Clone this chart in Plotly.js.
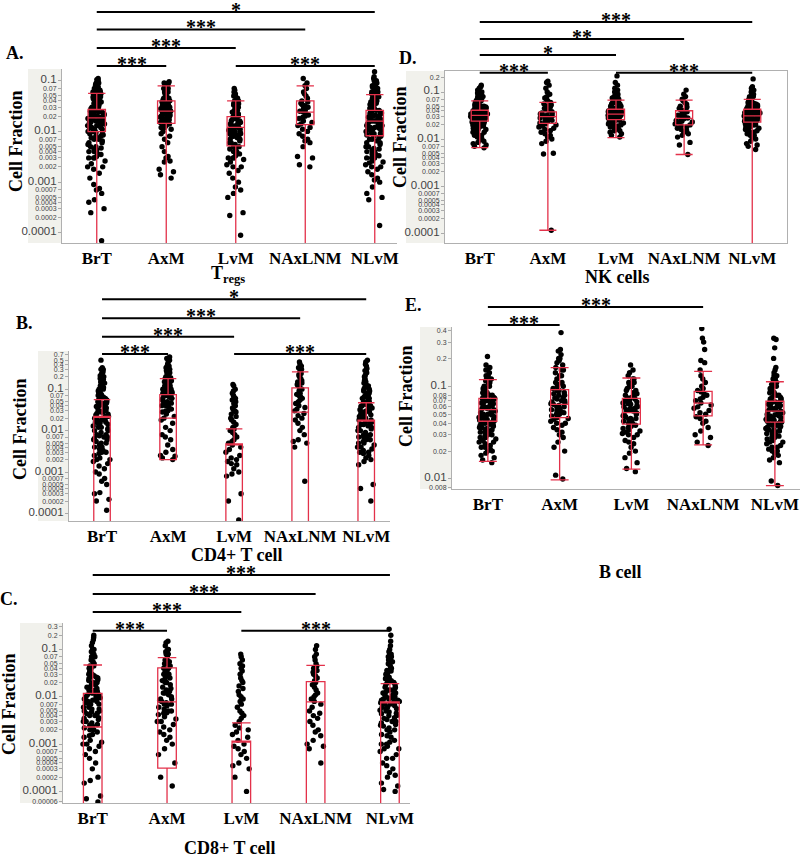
<!DOCTYPE html>
<html><head><meta charset="utf-8">
<script src="https://cdn.plot.ly/plotly-3.0.1.min.js"></script>
<style>html,body{margin:0;padding:0;background:#fff;}#chart{width:800px;height:859px;}</style>
</head><body><div id="chart"></div>
<script>
// ---------- DATA ----------
const categories = ['BrT','AxM','LvM','NAxLNM','NLvM'];

// Panel A: Tregs
const A_BrT = [0.00007,0.00025,0.0003,0.0004,0.00045,0.0006,0.0007,0.00075,0.0009,0.0012,0.0015,0.0018,0.002,0.002,0.0023,0.0026,0.003,0.003,0.0032,0.0036,0.004,0.0043,0.0047,0.005,0.0055,0.006,0.0065,0.007,0.0075,0.008,0.0085,0.009,0.0095,0.010,0.011,0.011,0.012,0.012,0.013,0.013,0.014,0.015,0.015,0.016,0.017,0.017,0.018,0.018,0.019,0.02,0.02,0.021,0.022,0.023,0.024,0.025,0.026,0.027,0.028,0.029,0.03,0.032,0.034,0.036,0.038,0.04,0.042,0.045,0.048,0.05,0.052,0.055,0.058,0.06,0.062,0.065,0.07,0.075,0.08,0.085,0.09,0.1,0.105,0.11,
  0.003,0.0035,0.004,0.0045,0.005,0.006,0.007,0.008,0.009,0.01,0.011,0.012,0.013,0.014,0.015,0.016,0.018,0.02,0.022,0.024,0.026,0.028,0.03,0.033,0.036,0.04,0.044,0.048,0.052,0.056,0.06,0.065,0.07,0.075,0.08,0.09,0.019,0.021,0.017,0.025];
const A_AxM = [0.0012,0.0014,0.0016,0.0018,0.0025,0.0026,0.003,0.0032,0.004,0.005,0.006,0.007,0.008,0.009,0.01,0.011,0.012,0.013,0.013,0.014,0.015,0.015,0.016,0.017,0.018,0.019,0.02,0.021,0.022,0.023,0.024,0.025,0.026,0.027,0.028,0.03,0.031,0.033,0.035,0.037,0.04,0.042,0.045,0.05,0.055,0.06,0.065,0.07,0.075,0.08,0.085,0.09,0.095,
  0.012,0.014,0.016,0.018,0.02,0.022,0.024,0.026,0.028,0.03,0.032,0.035,0.038,0.04,0.045,0.05,0.06,0.07,0.08,0.09];
const A_LvM = [0.00009,0.00022,0.00025,0.0005,0.0006,0.0007,0.0008,0.001,0.0012,0.0015,0.0017,0.002,0.002,0.0022,0.0025,0.0028,0.003,0.003,0.0033,0.0036,0.004,0.0045,0.005,0.0055,0.006,0.0065,0.007,0.0075,0.008,0.0085,0.009,0.0095,0.01,0.0105,0.011,0.012,0.012,0.013,0.014,0.015,0.016,0.017,0.018,0.019,0.02,0.022,0.024,0.026,0.028,0.03,0.033,0.036,0.04,0.045,0.05,0.055,0.06,0.065,0.07,
  0.003,0.004,0.005,0.006,0.007,0.008,0.009,0.01,0.011,0.012,0.013,0.014,0.015,0.016,0.018,0.02,0.022,0.025,0.03,0.035,0.04,0.045,0.05,0.0045,0.0085];
const A_NAxLNM = [0.002,0.0022,0.003,0.0032,0.005,0.006,0.0065,0.007,0.008,0.009,0.01,0.011,0.012,0.013,0.014,0.015,0.016,0.018,0.019,0.02,0.021,0.022,0.024,0.025,0.026,0.028,0.03,0.032,0.034,0.036,0.038,0.04,0.045,0.05,0.055,0.06,0.07,0.08,0.09,0.11];
const A_NLvM = [0.00014,0.00045,0.0005,0.0006,0.0008,0.001,0.0011,0.0012,0.0014,0.0016,0.0018,0.002,0.0022,0.0024,0.0026,0.003,0.003,0.0033,0.0036,0.004,0.0043,0.0046,0.005,0.0055,0.006,0.0065,0.007,0.0075,0.008,0.0085,0.009,0.0095,0.01,0.0105,0.011,0.0115,0.012,0.013,0.013,0.014,0.015,0.016,0.016,0.017,0.018,0.019,0.02,0.021,0.022,0.023,0.024,0.025,0.026,0.028,0.03,0.032,0.034,0.036,0.038,0.04,0.042,0.045,0.048,0.05,0.055,0.06,0.065,0.07,0.075,0.08,0.09,0.1,0.11,0.12,0.15,
  0.002,0.0025,0.003,0.0035,0.004,0.0045,0.005,0.006,0.007,0.008,0.009,0.01,0.011,0.012,0.013,0.014,0.015,0.016,0.017,0.018,0.019,0.02,0.022,0.024,0.026,0.028,0.03,0.033,0.036,0.04,0.044,0.048,0.052,0.056,0.06,0.065,0.07,0.08,0.09,0.1];
const A_q1  = [0.0099,0.0144,0.0052,0.0136,0.0082];
const A_med = [0.0185,0.025,0.012,0.024,0.016];
const A_q3  = [0.027,0.04,0.0196,0.04,0.026];
const A_lo  = [0.00003,0.00003,0.00003,0.00003,0.00003];
const A_hi  = [0.056,0.079,0.04,0.079,0.053];

// Panel B: CD4+ T cell
const B_BrT = [0.00012,0.0002,0.00022,0.0003,0.00032,0.0005,0.0006,0.0007,0.0009,0.001,0.0012,0.0014,0.0016,0.0018,0.002,0.0022,0.0025,0.0028,0.003,0.0033,0.0036,0.004,0.0045,0.005,0.0055,0.006,0.0065,0.007,0.0075,0.008,0.009,0.01,0.011,0.012,0.013,0.014,0.015,0.016,0.018,0.02,0.022,0.024,0.026,0.028,0.03,0.032,0.035,0.038,0.04,0.043,0.046,0.05,0.055,0.06,0.065,0.07,0.075,0.08,0.085,0.09,0.1,0.11,0.12,0.13,0.15,0.17,0.19,0.21,0.24,0.27,0.3,0.33,0.5,
  0.002,0.003,0.004,0.005,0.006,0.007,0.008,0.01,0.012,0.014,0.016,0.018,0.02,0.022,0.025,0.028,0.03,0.035,0.04,0.045,0.05,0.055,0.06,0.07,0.08,0.09,0.1,0.11,0.12,0.14,0.16,0.18,0.2,0.25,0.3];
const B_AxM = [0.002,0.0022,0.0024,0.0025,0.003,0.0035,0.0045,0.006,0.007,0.008,0.01,0.012,0.015,0.018,0.02,0.022,0.025,0.028,0.03,0.033,0.036,0.04,0.043,0.046,0.05,0.055,0.06,0.065,0.07,0.075,0.08,0.085,0.09,0.1,0.11,0.12,0.13,0.14,0.15,0.17,0.19,0.21,0.23,0.25,0.28,0.3,0.33,0.36,0.4,0.45,0.5,0.55,0.6,
  0.03,0.04,0.05,0.06,0.07,0.08,0.09,0.1,0.12,0.14,0.16,0.18,0.2,0.25,0.3,0.35,0.04,0.06,0.08,0.1];
const B_LvM = [0.00007,0.0002,0.0003,0.0008,0.0009,0.001,0.0012,0.0015,0.0016,0.0018,0.002,0.0022,0.0025,0.003,0.0035,0.004,0.0045,0.005,0.0055,0.006,0.007,0.008,0.009,0.01,0.011,0.012,0.014,0.016,0.018,0.02,0.022,0.025,0.028,0.03,0.032,0.035,0.04,0.045,0.05,0.055,0.06,0.065,0.07,0.08,0.09,0.1,0.12,0.13];
const B_NAxLNM = [0.0006,0.004,0.005,0.0055,0.006,0.008,0.01,0.012,0.015,0.018,0.02,0.023,0.026,0.03,0.033,0.036,0.04,0.045,0.05,0.055,0.06,0.065,0.07,0.075,0.08,0.09,0.1,0.11,0.12,0.13,0.14,0.15,0.16,0.18,0.2,0.22,0.24,0.27,0.3,0.33,0.36,0.4,0.45];
const B_NLvM = [0.0002,0.0004,0.0005,0.0015,0.0018,0.002,0.0022,0.0025,0.0028,0.003,0.0033,0.0036,0.004,0.0045,0.005,0.0055,0.006,0.0065,0.007,0.0075,0.008,0.009,0.01,0.011,0.012,0.013,0.014,0.015,0.016,0.018,0.02,0.022,0.024,0.026,0.028,0.03,0.032,0.035,0.038,0.04,0.043,0.046,0.05,0.055,0.06,0.065,0.07,0.08,0.09,0.1,0.11,0.12,0.13,0.15,0.17,0.19,0.22,0.25,0.28,0.32,0.36,0.4,0.45,0.5,
  0.003,0.004,0.005,0.006,0.007,0.008,0.01,0.012,0.014,0.016,0.018,0.02,0.022,0.025,0.028,0.03,0.035,0.04,0.045,0.05,0.06,0.07,0.08,0.09,0.1,0.12,0.14,0.16,0.2,0.3];
const B_q1  = [0.00002,0.002,0.00002,0.00002,0.00002];
const B_med = [0.021,0.02,0.0046,0.028,0.017];
const B_q3  = [0.022,0.074,0.0048,0.107,0.018];
const B_lo  = [0.00002,0.002,0.00002,0.00002,0.00002];
const B_hi  = [0.056,0.18,0.011,0.26,0.047];

// Panel C: CD8+ T cell
const C_BrT = [0.00006,0.00007,0.00008,0.00015,0.00017,0.0002,0.0003,0.0004,0.0005,0.0006,0.0007,0.0008,0.0009,0.001,0.0011,0.0012,0.0014,0.0016,0.0018,0.002,0.0022,0.0024,0.0026,0.0028,0.003,0.0033,0.0036,0.004,0.0044,0.0048,0.005,0.0055,0.006,0.0065,0.007,0.0075,0.008,0.0085,0.009,0.0095,0.01,0.011,0.012,0.013,0.014,0.015,0.016,0.018,0.02,0.022,0.024,0.026,0.028,0.03,0.033,0.036,0.04,0.045,0.05,0.055,0.06,0.07,0.08,0.09,0.1,0.12,0.14,0.16,0.18,0.2,
  0.001,0.0015,0.002,0.0025,0.003,0.0035,0.004,0.005,0.006,0.007,0.008,0.009,0.01,0.012,0.014,0.016,0.018,0.02,0.023,0.026,0.03,0.035,0.04,0.045,0.05,0.06,0.07,0.08,0.1,0.0045,0.0055,0.011,0.013,0.025,0.028];
const C_AxM = [0.00013,0.0002,0.0004,0.0006,0.0008,0.001,0.0012,0.0014,0.0016,0.0018,0.002,0.0023,0.0026,0.003,0.0034,0.0038,0.0042,0.0046,0.005,0.0055,0.006,0.0065,0.007,0.0075,0.008,0.0085,0.009,0.01,0.011,0.012,0.013,0.014,0.016,0.018,0.02,0.022,0.025,0.028,0.03,0.033,0.036,0.04,0.045,0.05,0.055,0.06,0.07,0.08,0.09,0.1,0.12,0.14,0.15,
  0.003,0.005,0.007,0.009,0.012,0.015,0.02,0.025,0.03,0.04,0.05,0.06,0.08,0.1,0.0045];
const C_LvM = [0.0001,0.0002,0.0003,0.00035,0.0004,0.0005,0.0006,0.0007,0.0008,0.0009,0.001,0.0012,0.0014,0.0016,0.0018,0.002,0.0022,0.0025,0.003,0.0035,0.004,0.0045,0.005,0.006,0.007,0.008,0.009,0.01,0.011,0.013,0.015,0.017,0.02,0.022,0.025,0.03,0.035,0.04,0.045,0.05,0.06,0.07,0.08];
const C_NAxLNM = [0.0004,0.0008,0.0009,0.001,0.0012,0.0015,0.0018,0.002,0.0025,0.003,0.0035,0.004,0.0045,0.005,0.006,0.007,0.008,0.009,0.01,0.011,0.012,0.014,0.016,0.018,0.02,0.022,0.025,0.028,0.03,0.033,0.036,0.04,0.045,0.05,0.06,0.07,0.08,0.1,0.12];
const C_NLvM = [0.0001,0.00011,0.00013,0.00015,0.0002,0.00022,0.00025,0.0003,0.00035,0.0004,0.0005,0.0006,0.0007,0.0008,0.0009,0.001,0.0011,0.0012,0.0014,0.0016,0.0018,0.002,0.0022,0.0024,0.0026,0.0028,0.003,0.0033,0.0036,0.004,0.0044,0.0048,0.0052,0.0056,0.006,0.0065,0.007,0.0075,0.008,0.0085,0.009,0.0095,0.01,0.011,0.012,0.013,0.014,0.015,0.016,0.018,0.02,0.022,0.024,0.026,0.028,0.03,0.033,0.036,0.04,0.045,0.05,0.055,0.06,0.07,0.08,0.09,0.1,0.12,0.15,0.2,0.27,
  0.0005,0.0008,0.001,0.0015,0.002,0.0025,0.003,0.0035,0.004,0.0045,0.005,0.0055,0.006,0.007,0.008,0.009,0.01,0.011,0.012,0.014,0.016,0.018,0.02,0.023,0.026,0.03,0.035,0.04,0.05,0.06,0.07,0.08,0.0075,0.0085,0.013];
const C_q1  = [0.00002,0.00031,0.00002,0.00002,0.00002];
const C_med = [0.0023,0.0078,0.00114,0.0078,0.0077];
const C_q3  = [0.0118,0.041,0.00116,0.021,0.0078];
const C_lo  = [0.00002,0.00002,0.00002,0.00002,0.00002];
const C_hi  = [0.047,0.067,0.0028,0.046,0.019];

// Panel D: NK cells
const D_BrT = [0.0065,0.007,0.0075,0.008,0.0085,0.009,0.0095,0.01,0.011,0.012,0.013,0.014,0.015,0.016,0.017,0.018,0.019,0.02,0.021,0.022,0.023,0.024,0.025,0.026,0.027,0.028,0.029,0.03,0.031,0.032,0.033,0.034,0.035,0.036,0.037,0.038,0.039,0.04,0.042,0.044,0.046,0.048,0.05,0.052,0.055,0.058,0.06,0.063,0.066,0.07,0.073,0.076,0.08,0.085,0.09,0.095,0.1,0.11,0.12,0.13,0.14,0.02,0.022,0.025,0.028,0.03,0.032,0.035,0.038,0.04,0.045,0.05,0.027,0.033,
  0.012,0.014,0.016,0.018,0.02,0.021,0.023,0.024,0.026,0.028,0.029,0.031,0.033,0.034,0.036,0.037,0.039,0.041,0.043,0.045,0.047,0.05,0.053,0.056,0.06,0.065,0.07,0.08,0.09,0.1];
const D_AxM = [0.000115,0.0048,0.005,0.008,0.009,0.01,0.011,0.012,0.013,0.014,0.015,0.016,0.017,0.018,0.019,0.02,0.021,0.022,0.023,0.024,0.025,0.026,0.027,0.028,0.029,0.03,0.031,0.032,0.033,0.034,0.035,0.036,0.038,0.04,0.042,0.045,0.048,0.05,0.053,0.056,0.06,0.065,0.07,0.075,0.08,0.09,0.1,0.12,0.14,0.16,0.17];
const D_LvM = [0.011,0.012,0.013,0.014,0.015,0.016,0.017,0.018,0.019,0.02,0.021,0.022,0.023,0.024,0.025,0.026,0.027,0.028,0.029,0.03,0.031,0.032,0.033,0.034,0.035,0.036,0.037,0.038,0.039,0.04,0.042,0.044,0.046,0.048,0.05,0.052,0.055,0.058,0.06,0.063,0.066,0.07,0.075,0.08,0.085,0.09,0.1,0.11,0.12,0.14,0.16,0.22,0.025,0.03,0.035,0.04,0.045,
  0.015,0.018,0.02,0.022,0.025,0.028,0.03,0.032,0.035,0.038,0.04,0.043,0.046,0.05,0.055,0.06,0.065,0.07,0.08,0.09];
const D_NAxLNM = [0.0047,0.0075,0.0085,0.011,0.012,0.013,0.014,0.015,0.016,0.017,0.018,0.019,0.02,0.021,0.022,0.023,0.024,0.025,0.026,0.027,0.028,0.029,0.03,0.032,0.034,0.036,0.038,0.04,0.042,0.045,0.048,0.05,0.055,0.06,0.065,0.07,0.08,0.09,0.11];
const D_NLvM = [0.006,0.007,0.0075,0.008,0.009,0.01,0.011,0.012,0.013,0.014,0.015,0.016,0.017,0.018,0.019,0.02,0.021,0.022,0.023,0.024,0.025,0.026,0.027,0.028,0.029,0.03,0.031,0.032,0.033,0.034,0.035,0.036,0.037,0.038,0.039,0.04,0.042,0.044,0.046,0.048,0.05,0.052,0.055,0.058,0.06,0.063,0.066,0.07,0.075,0.08,0.085,0.09,0.1,0.11,0.12,0.13,0.19,0.02,0.023,0.026,0.03,0.033,0.036,0.04,0.045,0.05,0.028,
  0.012,0.014,0.016,0.018,0.02,0.021,0.023,0.024,0.026,0.028,0.029,0.031,0.033,0.034,0.036,0.037,0.039,0.041,0.043,0.045,0.047,0.05,0.053,0.056,0.06,0.065,0.07,0.08,0.09,0.1];
const D_q1  = [0.024,0.0215,0.026,0.02,0.023];
const D_med = [0.032,0.03,0.034,0.0275,0.031];
const D_q3  = [0.041,0.038,0.043,0.04,0.043];
const D_lo  = [0.0066,0.000115,0.0107,0.0047,0.00003];
const D_hi  = [0.065,0.06,0.067,0.067,0.07];

// Panel E: B cell
const E_BrT = [0.015,0.016,0.017,0.018,0.019,0.02,0.021,0.022,0.023,0.024,0.025,0.026,0.027,0.028,0.029,0.03,0.031,0.032,0.033,0.034,0.035,0.036,0.037,0.038,0.039,0.04,0.041,0.042,0.043,0.044,0.045,0.046,0.047,0.048,0.049,0.05,0.052,0.054,0.056,0.058,0.06,0.062,0.064,0.066,0.068,0.07,0.072,0.074,0.076,0.078,0.08,0.083,0.086,0.09,0.093,0.096,0.1,0.105,0.11,0.115,0.12,0.13,0.14,0.15,0.16,0.17,0.21,
  0.02,0.022,0.025,0.028,0.03,0.032,0.034,0.036,0.038,0.04,0.042,0.044,0.046,0.048,0.05,0.052,0.054,0.056,0.058,0.06,0.062,0.065,0.068,0.07,0.073,0.076,0.08,0.085,0.09,0.095,0.1,0.11,0.12,0.13,0.15];
const E_AxM = [0.01,0.011,0.02,0.022,0.025,0.028,0.03,0.032,0.034,0.036,0.038,0.04,0.042,0.044,0.046,0.048,0.05,0.052,0.054,0.056,0.058,0.06,0.062,0.064,0.066,0.068,0.07,0.073,0.076,0.08,0.083,0.086,0.09,0.095,0.1,0.105,0.11,0.12,0.13,0.14,0.15,0.16,0.17,0.18,0.19,0.2,0.22,0.24,0.25,0.38,
  0.04,0.045,0.05,0.055,0.06,0.065,0.07,0.075,0.08,0.09,0.1,0.11,0.13,0.15,0.2];
const E_LvM = [0.012,0.013,0.015,0.017,0.019,0.02,0.022,0.024,0.026,0.028,0.03,0.031,0.032,0.034,0.036,0.037,0.038,0.04,0.042,0.043,0.045,0.047,0.048,0.05,0.052,0.054,0.056,0.058,0.06,0.062,0.064,0.066,0.068,0.07,0.073,0.076,0.08,0.083,0.086,0.09,0.095,0.1,0.105,0.11,0.12,0.13,0.14,0.15,0.17,
  0.025,0.03,0.035,0.04,0.045,0.05,0.055,0.06,0.065,0.07,0.075,0.08,0.09,0.1,0.11,0.12,0.033,0.044,0.058,0.067];
const E_NAxLNM = [0.023,0.025,0.028,0.03,0.033,0.036,0.04,0.042,0.045,0.047,0.05,0.052,0.055,0.058,0.06,0.063,0.066,0.07,0.073,0.076,0.08,0.083,0.087,0.09,0.095,0.1,0.11,0.12,0.13,0.15,0.18,0.19,0.25,0.3,0.33,0.42];
const E_NLvM = [0.0085,0.0095,0.015,0.016,0.017,0.018,0.019,0.02,0.021,0.022,0.023,0.024,0.025,0.026,0.027,0.028,0.029,0.03,0.031,0.032,0.033,0.034,0.035,0.036,0.037,0.038,0.039,0.04,0.041,0.042,0.043,0.044,0.045,0.046,0.047,0.048,0.049,0.05,0.052,0.054,0.056,0.058,0.06,0.062,0.064,0.066,0.068,0.07,0.073,0.076,0.08,0.083,0.086,0.09,0.095,0.1,0.105,0.11,0.12,0.13,0.14,0.16,0.2,0.26,0.32,0.33,
  0.02,0.022,0.025,0.028,0.03,0.032,0.034,0.036,0.038,0.04,0.042,0.044,0.046,0.048,0.05,0.052,0.054,0.056,0.058,0.06,0.062,0.065,0.068,0.07,0.073,0.076,0.08,0.085,0.09,0.095,0.1,0.11,0.12,0.13,0.15];
const E_q1  = [0.042,0.046,0.039,0.048,0.041];
const E_med = [0.056,0.064,0.052,0.066,0.054];
const E_q3  = [0.074,0.092,0.074,0.088,0.069];
const E_lo  = [0.0155,0.0098,0.0128,0.0233,0.0085];
const E_hi  = [0.118,0.159,0.123,0.145,0.112];

// Significance comparisons [from index, to index, label, level]
const sigA = [[0,1,'***',0],[2,4,'***',0],[0,2,'***',1],[0,3,'***',2],[0,4,'*',3]];
const sigB = [[0,1,'***',0],[2,4,'***',0],[0,2,'***',1],[0,3,'***',2],[0,4,'*',3]];
const sigC = [[0,1,'***',0],[2,4,'***',0],[0,2,'***',1],[0,3,'***',2],[0,4,'***',3]];
const sigD = [[0,1,'***',0],[2,4,'***',0],[0,2,'*',1],[0,3,'**',2],[0,4,'***',3]];
const sigE = [[0,1,'***',0],[0,3,'***',1]];

// Tick labels
const tickValsLog = [0.7,0.5,0.4,0.3,0.2,0.1,0.07,0.05,0.04,0.03,0.02,0.01,0.007,0.005,0.004,0.003,0.002,0.001,0.0007,0.0005,0.0004,0.0003,0.0002,0.0001,0.00006];
const tickTextLog = ['0.7','0.5','0.4','0.3','0.2','0.1','0.07','0.05','0.04','0.03','0.02','0.01','0.007','0.005','0.004','0.003','0.002','0.001','0.0007','0.0005','0.0004','0.0003','0.0002','0.0001','0.00006'];
const tickValsE = [0.4,0.3,0.2,0.1,0.08,0.07,0.06,0.05,0.04,0.03,0.02,0.01,0.008];
const tickTextE = ['0.4','0.3','0.2','0.1','0.08','0.07','0.06','0.05','0.04','0.03','0.02','0.01','0.008'];
const majorTicks = ['0.1','0.01','0.001','0.0001'];

// ---------- LAYOUT HELPERS ----------
const W = 800, H = 859;
const xd = (a,b) => [a/W, b/W];
const yd = (top,bot) => [1-bot/H, 1-top/H];
const py = y => 1 - y/H;
const px = x => x/W;
const serif = 'Liberation Serif, Times New Roman, serif';
const boxRed = '#e3314a';

const panels = [
  {id:'', letter:'A.', groups:[A_BrT,A_AxM,A_LvM,A_NAxLNM,A_NLvM], q1:A_q1, med:A_med, q3:A_q3, lo:A_lo, hi:A_hi, sig:sigA,
   xdom:[62,397], xr:[-0.5,4.32], ydom:[69,243], yr:[-4.20,-0.77], tv:tickValsLog, tt:tickTextLog, ymaxTick:0.17,
   levels:[66,48,29.5,12], gray:[28,62], title:'T<sub>regs</sub>', titlePos:[228,275], cf:[16,142], letterPos:[15,53], mirror:false},
  {id:'2', letter:'B.', groups:[B_BrT,B_AxM,B_LvM,B_NAxLNM,B_NLvM], q1:B_q1, med:B_med, q3:B_q3, lo:B_lo, hi:B_hi, sig:sigB,
   xdom:[69,390], xr:[-0.5,4.36], ydom:[351,521], yr:[-4.18,-0.08], tv:tickValsLog, tt:tickTextLog, ymaxTick:0.8,
   levels:[354,336.7,318.3,299.3], gray:[38,69], title:'CD4+ T cell', titlePos:[237,555], cf:[20,430], letterPos:[24,323], mirror:false},
  {id:'3', letter:'C.', groups:[C_BrT,C_AxM,C_LvM,C_NAxLNM,C_NLvM], q1:C_q1, med:C_med, q3:C_q3, lo:C_lo, hi:C_hi, sig:sigC,
   xdom:[63,410], xr:[-0.4,4.27], ydom:[623,803], yr:[-4.245,-0.44], tv:tickValsLog, tt:tickTextLog, ymaxTick:0.35,
   levels:[630.7,612,594,575], gray:[20,63], title:'CD8+ T cell', titlePos:[230,848], cf:[9,705], letterPos:[9,599], mirror:false},
  {id:'4', letter:'D.', groups:[D_BrT,D_AxM,D_LvM,D_NAxLNM,D_NLvM], q1:D_q1, med:D_med, q3:D_q3, lo:D_lo, hi:D_hi, sig:sigD,
   xdom:[445,787], xr:[-0.51,4.51], ydom:[71,243], yr:[-4.21,-0.553], tv:tickValsLog, tt:tickTextLog, ymaxTick:0.25,
   levels:[72.7,55,39,22], gray:[406,445], title:'NK cells', titlePos:[617,277], cf:[400,138], letterPos:[408,58], mirror:true},
  {id:'5', letter:'E.', groups:[E_BrT,E_AxM,E_LvM,E_NAxLNM,E_NLvM], q1:E_q1, med:E_med, q3:E_q3, lo:E_lo, hi:E_hi, sig:sigE,
   xdom:[452,800], xr:[-0.5,4.35], ydom:[327,489], yr:[-2.108,-0.36], tv:tickValsE, tt:tickTextE, ymaxTick:0.45,
   levels:[325,307], gray:[420,452], title:'B cell', titlePos:[620,572], cf:[406,396], letterPos:[413,305], mirror:false}
];

const traces = [];
const layout = {
  width: W, height: H, margin:{l:0,r:0,t:0,b:0},
  paper_bgcolor:'#ffffff', plot_bgcolor:'rgba(0,0,0,0)',
  showlegend:false, boxmode:'overlay',
  shapes:[], annotations:[]
};

panels.forEach(p => {
  const xa = 'x'+p.id, ya = 'y'+p.id;
  // points
  p.groups.forEach((vals, i) => {
    traces.push({
      type:'box', y: vals, x0: categories[i], xaxis: xa, yaxis: ya,
      boxpoints:'all', jitter:1, pointpos:0, width:0.27,
      line:{width:0, color:'rgba(0,0,0,0)'}, fillcolor:'rgba(0,0,0,0)',
      marker:{color:'#000000', size:5.4, line:{width:0}},
      hoverinfo:'y'
    });
  });
  // boxes from summary statistics
  traces.push({
    type:'box', x: categories, q1:p.q1, median:p.med, q3:p.q3, lowerfence:p.lo, upperfence:p.hi,
    xaxis: xa, yaxis: ya, width:0.25, whiskerwidth:1,
    line:{color:boxRed, width:1.3}, fillcolor:'rgba(0,0,0,0)', boxpoints:false, hoverinfo:'skip'
  });

  const ticksHere = p.tv.map((v,k)=>[v,p.tt[k]]).filter(t => t[0] <= p.ymaxTick);
  layout['xaxis'+p.id] = {
    domain: xd(p.xdom[0],p.xdom[1]), anchor: ya, type:'category',
    categoryorder:'array', categoryarray: categories, range: p.xr,
    showgrid:false, zeroline:false, showline:true, linecolor:'#b0b0b0', linewidth:1,
    mirror: p.mirror, ticks:'', fixedrange:true,
    tickfont:{family:serif, size:17, color:'#000', weight:'bold'}
  };
  layout['yaxis'+p.id] = {
    domain: yd(p.ydom[0],p.ydom[1]), anchor: xa, type:'log', range: p.yr,
    tickmode:'array', tickvals: ticksHere.map(t=>t[0]),
    ticktext: ticksHere.map(t => majorTicks.includes(t[1]) ? '<span style="font-size:11.5px">'+t[1]+'</span>' : t[1]),
    tickfont:{family:'Liberation Sans, Arial, sans-serif', size:7, color:'#444'},
    ticks:'outside', ticklen:3, tickcolor:'#aaaaaa', tickwidth:1,
    showgrid:false, zeroline:false, showline:true, linecolor:'#b0b0b0', linewidth:1,
    mirror: p.mirror, fixedrange:true
  };
  // gray background behind tick labels
  layout.shapes.push({type:'rect', xref:'paper', yref:'paper', layer:'below',
    x0:px(p.gray[0]), x1:px(p.gray[1]), y0:py(p.ydom[1]), y1:py(p.ydom[0]),
    fillcolor:'#f1f1ec', line:{width:0}});
  // significance bars
  p.sig.forEach(s => {
    const ly = p.levels[s[3]];
    layout.shapes.push({type:'line', xref:xa, yref:'paper', x0:s[0], x1:s[1], y0:py(ly), y1:py(ly),
      line:{color:'#000', width:2}});
    layout.annotations.push({xref:xa, yref:'paper', x:(s[0]+s[1])/2, y:py(ly-2), text:s[2],
      showarrow:false, xanchor:'center', yanchor:'middle',
      font:{family:serif, size:20, color:'#000', weight:'bold'}});
  });
  // axis title
  layout.annotations.push({xref:'paper', yref:'paper', x:px(p.titlePos[0]), y:py(p.titlePos[1]), text:p.title,
    showarrow:false, xanchor:'center', yanchor:'middle', font:{family:serif, size:18, color:'#000', weight:'bold'}});
  // y title
  layout.annotations.push({xref:'paper', yref:'paper', x:px(p.cf[0]), y:py(p.cf[1]), text:'Cell Fraction', textangle:-90,
    showarrow:false, xanchor:'center', yanchor:'middle', font:{family:serif, size:18, color:'#000', weight:'bold'}});
  // panel letter
  layout.annotations.push({xref:'paper', yref:'paper', x:px(p.letterPos[0]), y:py(p.letterPos[1]), text:p.letter,
    showarrow:false, xanchor:'center', yanchor:'middle', font:{family:serif, size:18, color:'#000', weight:'bold'}});
});

Plotly.newPlot('chart', traces, layout, {staticPlot:true, displayModeBar:false});
</script>
</body></html>
